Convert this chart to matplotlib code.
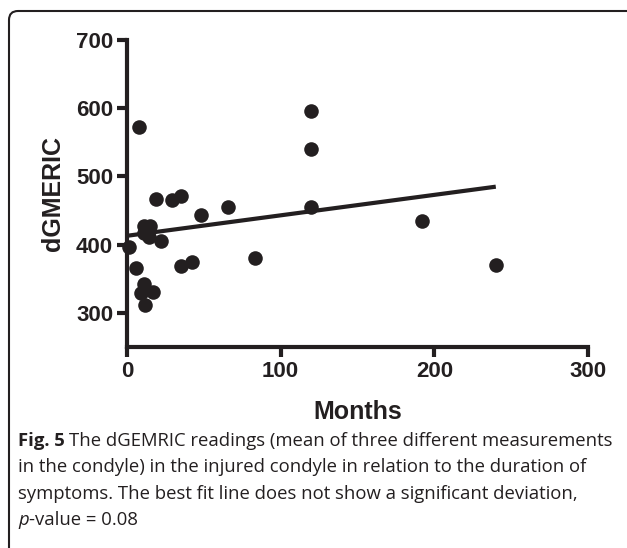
import matplotlib
matplotlib.use("Agg")
import matplotlib.pyplot as plt
from matplotlib.patches import FancyBboxPatch

# duration of symptoms (months) and dGEMRIC readings
months = [1, 8, 6, 11, 9, 12, 17, 11, 15, 11, 14, 22, 19, 29, 35, 35, 42, 48, 66, 83, 120, 120, 120, 192, 240]
dgemric = [397, 572, 366, 343, 329, 311, 331, 428, 428, 417, 411, 405, 467, 465, 472, 368, 374, 443, 455, 380, 596, 540, 455, 435, 370]

# best fit line
fit_x = [0, 240]
fit_intercept = 413
fit_slope = 0.30

xticks = [0, 100, 200, 300]
yticks = [300, 400, 500, 600, 700]

INK = '#231f20'

fig = plt.figure(figsize=(6.27, 5.48), dpi=100)
ax = fig.add_axes([127 / 627, 1 - 347 / 548, (588 - 127) / 627, (347 - 40) / 548])

ax.scatter(months, dgemric, s=110, color=INK, zorder=3, clip_on=False, linewidths=0)
ax.plot(fit_x, [fit_intercept + fit_slope * x for x in fit_x], color=INK, lw=3, solid_capstyle='butt')

ax.set_xlim(0, 300)
ax.set_ylim(250, 700)
ax.set_xticks(xticks)
ax.set_yticks(yticks)
for side in ['top', 'right']:
    ax.spines[side].set_visible(False)
for side in ['left', 'bottom']:
    ax.spines[side].set_linewidth(3)
    ax.spines[side].set_color(INK)
ax.tick_params(width=3, length=7, color=INK, labelcolor=INK, pad=3)
for lab in ax.get_xticklabels() + ax.get_yticklabels():
    lab.set_fontfamily('Liberation Sans')
    lab.set_fontweight('bold')
    lab.set_fontsize(16)

ax.set_ylabel('dGMERIC', fontsize=18, fontweight='bold', family='Liberation Sans', color=INK, labelpad=8)
ax.set_xlabel('Months', fontsize=18, fontweight='bold', family='Liberation Sans', color=INK, labelpad=13)

# rounded frame, open at the right and bottom edges
frame = FancyBboxPatch((0.09, -1.0), 7.0, 6.37, boxstyle='round,pad=0,rounding_size=0.09',
                       transform=fig.dpi_scale_trans, fill=False, lw=1.5, ec=INK)
fig.add_artist(frame)

# caption
cap_font = 'Open Sans'
cap_size = 13.3
cap_x = 18 / 627
line_y = [441, 467, 494, 520]
cap_lines = [
    'in the condyle) in the injured condyle in relation to the duration of',
    'symptoms. The best fit line does not show a significant deviation,',
]

fig.canvas.draw()
renderer = fig.canvas.get_renderer()

t = fig.text(cap_x, 1 - line_y[0] / 548, 'Fig. 5', fontsize=cap_size, family=cap_font,
             fontweight='bold', color=INK, va='center')
bb = t.get_window_extent(renderer)
fig.text(bb.x1 / 627 + 4 / 627, 1 - line_y[0] / 548,
         'The dGEMRIC readings (mean of three different measurements',
         fontsize=cap_size, family=cap_font, color=INK, va='center')
for yy, s in zip(line_y[1:3], cap_lines):
    fig.text(cap_x, 1 - yy / 548, s, fontsize=cap_size, family=cap_font, color=INK, va='center')
t = fig.text(cap_x, 1 - line_y[3] / 548, 'p', fontsize=cap_size, family=cap_font,
             style='italic', color=INK, va='center')
bb = t.get_window_extent(renderer)
fig.text(bb.x1 / 627, 1 - line_y[3] / 548, '-value = 0.08',
         fontsize=cap_size, family=cap_font, color=INK, va='center')

fig.savefig('out.png', dpi=100)
